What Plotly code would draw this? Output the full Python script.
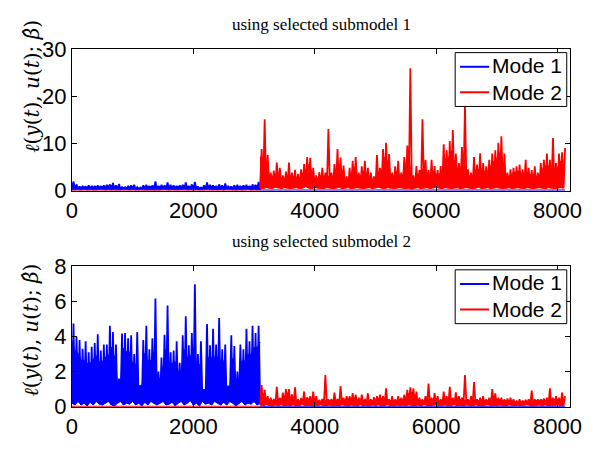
import plotly.graph_objects as go

# ---------------- data ----------------
DT = 25            # half spacing between successive local peaks
SWITCH_T = 3100    # time where Mode 2 starts
T_END = 8125       # last sample time

# subplot 1 (submodel 1) - Mode 1 active segment: local peaks / local troughs
top_m1_peaks = [1.9,1.3,0.9,1.0,0.9,1.1,1.0,1.0,1.1,1.0,
                1.1,1.2,1.3,1.6,1.1,1.4,0.8,0.7,1.0,1.1,
                1.2,0.7,0.6,1.1,1.2,1.0,1.1,1.9,1.0,1.2,
                1.1,1.7,1.2,1.1,1.0,1.1,1.2,1.7,1.0,1.3,
                1.8,0.9,0.7,1.1,1.7,1.2,1.1,1.0,1.3,1.1,
                1.5,1.0,0.9,1.1,1.2,1.0,1.1,1.2,1.0,1.3,
                1.2,1.8]
top_m1_troughs = [0.2,0.1,0.2,0.1,0.3,0.1,0.2,0.1,0.1,0.2,
                  0.3,0.1,0.2,0.1,0.2,0.1,0.1,0.3,0.2,0.1,
                  0.2,0.1,0.2,0.3,0.1,0.1,0.2,0.1,0.2,0.1,
                  0.3,0.2,0.1,0.2,0.1,0.1,0.2,0.3,0.1,0.2,
                  0.1,0.2,0.1,0.1,0.2,0.3,0.1,0.2,0.1,0.2,
                  0.1,0.3,0.2,0.1,0.1,0.2,0.1,0.2,0.3,0.1,
                  0.2,0.1,0.1]
# subplot 1 - Mode 2 active segment
top_m2_peaks = [8.8,15.1,7.5,3.8,4.2,5.9,4.8,3.2,4.0,5.9,
                3.8,4.4,3.5,4.5,5.6,7.1,6.9,4.8,3.2,3.9,
                4.8,3.8,13.0,3.8,5.6,8.8,7.0,5.3,3.0,4.8,
                6.3,7.1,3.8,5.1,6.3,4.8,3.8,3.0,7.5,4.8,
                8.8,10.1,7.7,3.8,5.1,6.3,3.8,7.1,9.5,25.9,
                3.2,5.2,4.4,15.1,6.5,4.3,6.5,5.2,4.3,5.2,
                9.8,8.5,10.5,12.8,7.8,5.8,9.2,18.0,4.5,3.8,
                7.1,5.5,7.9,5.8,5.1,6.5,7.8,8.5,10.1,11.5,
                7.8,3.8,4.5,4.8,5.1,5.5,4.5,6.5,4.8,4.3,
                5.1,3.8,5.8,6.5,7.8,6.5,11.1,5.8,7.8,8.1,
                9.0]
top_m2_troughs = [0.5,0.4,0.6,0.5,0.4,0.7,0.5,0.4,0.6,0.5,
                  0.4,0.5,0.6,0.4,0.5,0.8,0.5,0.4,0.6,0.5,
                  0.5,0.4,0.6,0.5,0.4,0.5,0.7,0.4,0.5,0.6,
                  0.4,0.5,0.6,0.5,0.4,0.5,0.6,0.4,0.5,0.7,
                  0.5,0.4,0.6,0.5,0.4,0.5,0.6,0.5,0.4,0.5,
                  0.3,0.5,0.6,0.4,0.5,0.6,0.4,0.5,0.7,0.5,
                  0.4,0.6,0.5,0.4,0.5,0.6,0.4,0.5,0.6,0.5,
                  0.4,0.5,0.7,0.4,0.5,0.6,0.4,0.5,0.6,0.5,
                  0.4,0.5,0.6,0.4,0.5,0.6,0.5,0.4,0.6,0.5,
                  0.4,0.5,0.6,0.5,0.4,0.6,0.5,0.4,0.5,0.6,
                  0.5]

# subplot 2 (submodel 2) - Mode 1 active segment
bot_m1_peaks = [4.73,3.98,3.8,3.3,3.72,3.1,3.41,3.63,4.12,3.2,
                3.54,3.54,4.6,4.25,3.54,1.6,4.16,4.2,3.89,4.07,
                3.0,4.25,1.23,3.8,4.6,3.27,3.9,6.15,2.0,2.8,
                4.1,5.76,3.1,3.2,3.72,2.5,4.07,5.14,3.5,4.2,
                6.97,3.0,3.72,1.0,4.7,3.5,4.43,3.54,5.05,3.27,
                3.54,1.2,4.07,3.45,2.0,3.54,3.27,4.43,3.72,4.6,
                4.2,4.6]
bot_m1_troughs = [0.2,0.1,0.3,0.1,0.2,0.05,0.25,0.1,0.3,0.15,
                  0.1,0.2,0.3,0.1,0.05,0.2,0.3,0.1,0.2,0.15,
                  0.3,0.1,0.2,0.05,0.25,0.1,0.3,0.2,0.1,0.2,
                  0.3,0.1,0.15,0.25,0.05,0.2,0.3,0.1,0.2,0.35,
                  0.1,0.2,0.05,0.3,0.15,0.2,0.1,0.3,0.2,0.1,
                  0.25,0.1,0.3,0.2,0.05,0.2,0.3,0.1,0.2,0.15,
                  0.3,0.1,0.2]
# subplot 2 - Mode 2 active segment
bot_m2_peaks = [1.23,0.96,0.6,0.52,0.45,1.14,0.52,0.8,1.0,1.0,
                0.7,1.1,0.43,0.5,0.87,0.55,0.6,0.87,0.6,0.4,
                0.45,1.81,0.43,0.45,0.8,0.45,1.17,0.52,0.6,0.6,
                0.77,0.69,0.52,0.69,0.45,0.77,0.43,0.55,0.6,0.69,
                0.6,1.05,0.43,0.6,0.43,0.6,0.52,0.69,0.96,1.1,
                1.05,0.87,0.52,0.43,0.6,1.32,0.52,0.77,0.6,0.43,
                0.87,0.6,1.14,0.52,0.82,0.6,0.52,1.81,0.43,0.6,
                1.4,0.43,0.52,0.6,0.43,0.52,1.0,0.77,0.52,0.52,
                0.43,0.47,0.52,0.43,0.36,0.43,0.36,0.4,0.43,0.92,
                0.43,0.43,0.43,0.47,0.52,1.05,0.52,0.6,0.52,0.8,
                0.6]
bot_m2_troughs = [0.10,0.05,0.12,0.08,0.04,0.10,0.06,0.12,0.05,0.09,
                  0.07,0.11,0.04,0.08,0.13,0.06,0.09,0.05,0.10,0.07,
                  0.12,0.05,0.08,0.10,0.04,0.09,0.06,0.11,0.07,0.05,
                  0.10,0.08,0.04,0.12,0.06,0.09,0.05,0.10,0.07,0.11,
                  0.05,0.08,0.12,0.06,0.04,0.10,0.07,0.09,0.05,0.11,
                  0.08,0.06,0.10,0.04,0.12,0.07,0.05,0.09,0.11,0.06,
                  0.08,0.10,0.05,0.07,0.12,0.04,0.09,0.06,0.10,0.08,
                  0.05,0.11,0.07,0.04,0.09,0.12,0.06,0.08,0.05,0.10,
                  0.07,0.04,0.11,0.08,0.06,0.10,0.05,0.09,0.12,0.07,
                  0.04,0.08,0.10,0.06,0.11,0.05,0.09,0.07,0.12,0.06,
                  0.08]
INACTIVE = 0.0   # loss value shown for the mode that is not active

x_ticks = [0, 2000, 4000, 6000, 8000]
top_y_ticks = [0, 10, 20, 30]
bot_y_ticks = [0, 2, 4, 6, 8]
titles = ["using selected submodel 1", "using selected submodel 2"]
mode_names = ["Mode 1", "Mode 2"]
ylabel = "<i>ℓ</i>(<i>y</i>(<i>t</i>), <i>u</i>(<i>t</i>); <i>β̂</i>)"

W, H = 603, 450
def px(v):  # horizontal pixel -> paper
    return v / W
def py(v):  # vertical pixel -> paper
    return 1 - v / H

fig = go.Figure()
BLUE, RED = "#0000ff", "#ff0000"
SOLID_FRAC = 0.8   # how far up the densely oscillating trace paints solid

def add_signal(troughs, peaks, t0, color, name, xa, ya):
    xt = [t0 + 2 * i * DT for i in range(len(troughs))]
    # solid core: between the local minima and the lower neighbouring local maximum
    n = len(peaks)
    core = [SOLID_FRAC * min(peaks[max(i - 1, 0)], peaks[min(i, n - 1)])
            for i in range(len(troughs))]
    fig.add_trace(go.Scatter(x=xt, y=troughs, mode="lines", name=name,
                             line=dict(color=color, width=1), xaxis=xa, yaxis=ya,
                             showlegend=False, hoverinfo="skip"))
    fig.add_trace(go.Scatter(x=xt, y=core, mode="lines", name=name, fill="tonexty",
                             fillcolor=color, line=dict(color=color, width=1),
                             xaxis=xa, yaxis=ya, showlegend=False, hoverinfo="skip"))
    # the oscillating trace itself: alternating local minima and maxima
    xs, ys = [], []
    for i, tr in enumerate(troughs):
        xs.append(xt[i]); ys.append(tr)
        if i < n:
            xs.append(t0 + (2 * i + 1) * DT); ys.append(peaks[i])
    fig.add_trace(go.Scatter(x=xs, y=ys, mode="lines", name=name,
                             line=dict(color=color, width=1.8), xaxis=xa, yaxis=ya,
                             showlegend=False))

def add_flat(x0, x1, color, name, xa, ya):
    fig.add_trace(go.Scatter(x=[x0, x1], y=[INACTIVE, INACTIVE], mode="lines", name=name,
                             line=dict(color=color, width=2), xaxis=xa, yaxis=ya,
                             showlegend=False))

sets = [
    (top_m1_troughs, top_m1_peaks, top_m2_troughs, top_m2_peaks, "x", "y"),
    (bot_m1_troughs, bot_m1_peaks, bot_m2_troughs, bot_m2_peaks, "x2", "y2"),
]
for m1t, m1p, m2t, m2p, xa, ya in sets:
    add_signal(m1t, m1p, 0, BLUE, mode_names[0], xa, ya)
    add_flat(SWITCH_T, T_END, BLUE, mode_names[0], xa, ya)
    add_signal(m2t, m2p, SWITCH_T, RED, mode_names[1], xa, ya)
    add_flat(0, SWITCH_T, RED, mode_names[1], xa, ya)

SANS = "Liberation Sans, Arial, sans-serif"
TICKFONT = dict(family=SANS, size=22, color="black")
axis_common = dict(showline=True, linecolor="black", linewidth=1, mirror="ticks",
                   ticks="inside", ticklen=5, tickcolor="black", showgrid=False,
                   zeroline=False, tickfont=TICKFONT)
X_RANGE = [0, 8200]

fig.update_layout(
    width=W, height=H, margin=dict(l=0, r=0, t=0, b=0),
    paper_bgcolor="white", plot_bgcolor="white",
    xaxis=dict(domain=[px(68), px(581)], range=X_RANGE, tickvals=x_ticks, anchor="y", **axis_common),
    yaxis=dict(domain=[py(189), py(39)], range=[0, 30], tickvals=top_y_ticks, anchor="x", **axis_common),
    xaxis2=dict(domain=[px(68), px(581)], range=X_RANGE, tickvals=x_ticks, anchor="y2", **axis_common),
    yaxis2=dict(domain=[py(418), py(269)], range=[0, 8], tickvals=bot_y_ticks, anchor="x2", **axis_common),
    showlegend=False,
)

# ---------------- legends (boxed, drawn in pixel positions) ----------------
LEG_FONT = dict(family=SANS, size=21, color="black")
for top in (43, 273):
    fig.add_shape(type="rect", xref="paper", yref="paper",
                  x0=px(463), x1=px(578), y0=py(top + 57), y1=py(top),
                  line=dict(color="black", width=1), fillcolor="white", layer="above")
    for j, col in enumerate([BLUE, RED]):
        yc = top + 15 + 27 * j
        fig.add_shape(type="line", xref="paper", yref="paper",
                      x0=px(468), x1=px(498), y0=py(yc), y1=py(yc),
                      line=dict(color=col, width=2), layer="above")
    fig.add_annotation(text="<br>".join(mode_names), x=px(499), y=py(top + 28),
                       xref="paper", yref="paper", showarrow=False, font=LEG_FONT,
                       xanchor="left", yanchor="middle", align="left")

SERIF = dict(family="Liberation Serif, Times New Roman, serif", size=17, color="black")
fig.add_annotation(text=titles[0], x=px(325), y=py(13), xref="paper", yref="paper",
                   showarrow=False, font=SERIF, xanchor="center", yanchor="middle")
fig.add_annotation(text=titles[1], x=px(325), y=py(243), xref="paper", yref="paper",
                   showarrow=False, font=SERIF, xanchor="center", yanchor="middle")
LBL = dict(family="DejaVu Serif, serif", size=20, color="black")
fig.add_annotation(text=ylabel, x=px(26), y=py(79), xref="paper", yref="paper",
                   showarrow=False, font=LBL, textangle=-90, xanchor="center", yanchor="middle")
fig.add_annotation(text=ylabel, x=px(26), y=py(337), xref="paper", yref="paper",
                   showarrow=False, font=LBL, textangle=-90, xanchor="center", yanchor="middle")

fig.write_html("out.html")
